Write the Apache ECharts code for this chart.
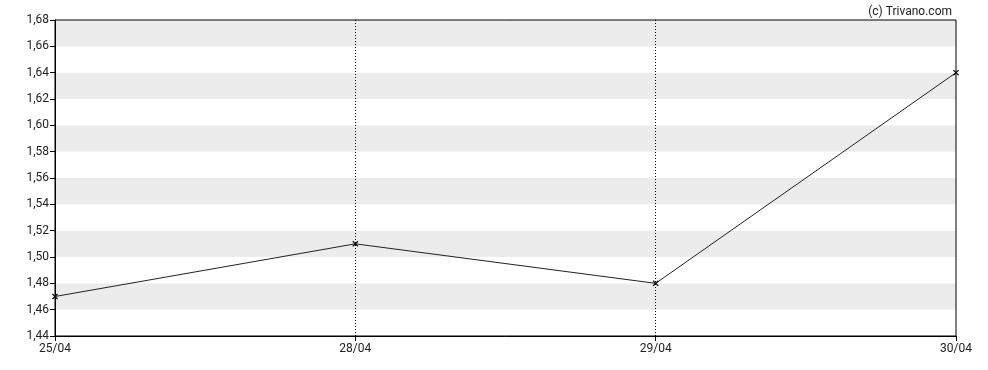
<!DOCTYPE html>
<html>
<head>
<meta charset="utf-8">
<script src="https://cdn.jsdelivr.net/npm/echarts@6/dist/echarts.min.js"></script>
<style>html,body{margin:0;padding:0;background:#fff}#c{width:988px;height:370px}</style>
</head>
<body>
<div id="c"></div>
<script>
const categories = ['25/04', '28/04', '29/04', '30/04'];
const values = [1.47, 1.51, 1.48, 1.64];
const yMin = 1.44, yMax = 1.68, yStep = 0.02;

const chart = echarts.init(document.getElementById('c'), null, {renderer: 'canvas'});
const font = 'Roboto';
chart.setOption({
  animation: false,
  backgroundColor: '#fff',
  title: {
    text: '(c) Trivano.com', right: 31, top: 1,
    textStyle: {fontFamily: font, fontSize: 12, fontWeight: 'normal', color: '#222'}
  },
  grid: {left: 55, right: 32, top: 20, bottom: 34, show: true, borderColor: '#000', borderWidth: 1, backgroundColor: 'transparent', z: 5},
  xAxis: {
    type: 'category', data: categories, boundaryGap: false,
    axisLine: {lineStyle: {color: '#000', width: 1}},
    axisTick: {show: true, length: 5, lineStyle: {color: '#000'}},
    axisLabel: {fontFamily: font, fontSize: 12, color: '#222', margin: 7},
    splitLine: {show: true, interval: (i) => i > 0 && i < categories.length - 1,
      lineStyle: {color: '#000', type: [1, 2], width: 1}}
  },
  yAxis: {
    type: 'value', min: yMin, max: yMax, interval: yStep,
    axisLine: {show: true, lineStyle: {color: '#000'}},
    axisTick: {show: true, length: 5, lineStyle: {color: '#000'}},
    axisLabel: {fontFamily: font, fontSize: 12, color: '#222', margin: 6,
      formatter: v => v.toFixed(2).replace('.', ',')},
    splitLine: {show: false},
    splitArea: {show: true, areaStyle: {color: ['#ffffff', '#ececec']}}
  },
  series: [{
    type: 'line', data: values,
    lineStyle: {color: '#222', width: 1},
    symbol: 'path://M0,1.5L1.5,0L5,3.5L8.5,0L10,1.5L6.5,5L10,8.5L8.5,10L5,6.5L1.5,10L0,8.5L3.5,5Z',
    symbolSize: 6,
    showAllSymbol: true,
    z: 10,
    itemStyle: {color: '#111'}
  }]
});
</script>
</body>
</html>
